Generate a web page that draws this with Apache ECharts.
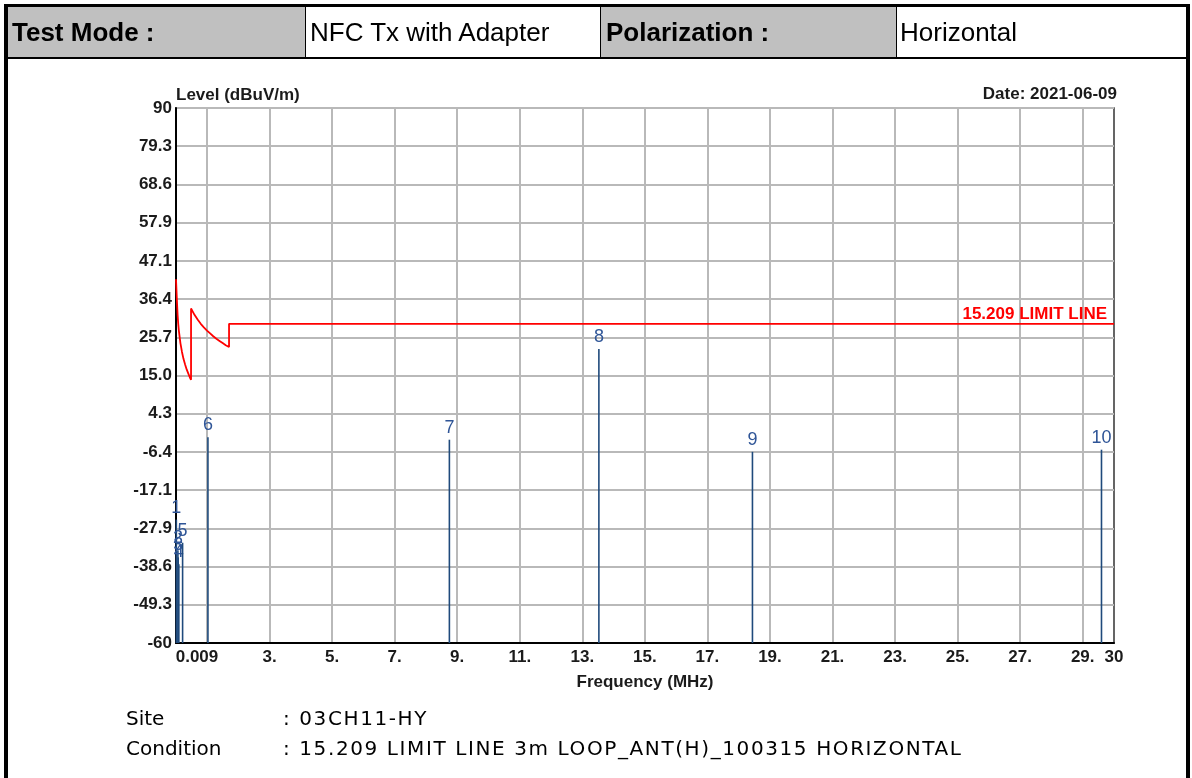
<!DOCTYPE html>
<html>
<head>
<meta charset="utf-8">
<script src="https://cdn.jsdelivr.net/npm/echarts@6/dist/echarts.min.js"></script>
<style>
  html, body { margin:0; padding:0; background:#fff; width:1192px; height:778px; overflow:hidden; }
  #chart { position:absolute; left:0; top:0; width:1192px; height:778px; }
  .abs { position:absolute; }
  .cell { position:absolute; top:7px; height:51px; font-family:"Liberation Sans", Arial, sans-serif; font-size:26px; line-height:51px; color:#000; white-space:nowrap; }
  .foot { position:absolute; font-family:"DejaVu Sans", sans-serif; font-size:20px; color:#000; white-space:nowrap; line-height:24px; }
  .foot2 { letter-spacing:1.6px; }
</style>
</head>
<body>
<div id="chart"></div>
<!-- page frame & header table -->
<div class="abs" style="left:4px;top:4px;width:1186px;height:800px;border:4px solid #000;box-sizing:border-box;"></div>
<div class="cell" style="left:8px;width:297px;background:#c0c0c0;font-weight:bold;padding-left:4px;box-sizing:border-box;">Test Mode :</div>
<div class="cell" style="left:306px;width:294px;background:#fff;padding-left:4px;box-sizing:border-box;">NFC Tx with Adapter</div>
<div class="cell" style="left:601px;width:295px;background:#c0c0c0;font-weight:bold;padding-left:5px;box-sizing:border-box;">Polarization :</div>
<div class="cell" style="left:897px;width:289px;background:#fff;padding-left:3px;box-sizing:border-box;">Horizontal</div>
<div class="abs" style="left:305px;top:7px;width:1px;height:51px;background:#000;"></div>
<div class="abs" style="left:600px;top:7px;width:1px;height:51px;background:#000;"></div>
<div class="abs" style="left:896px;top:7px;width:1px;height:51px;background:#000;"></div>
<div class="abs" style="left:8px;top:57px;width:1178px;height:2px;background:#000;"></div>
<!-- footer -->
<div class="foot" style="left:126px;top:706px;">Site</div>
<div class="foot foot2" style="left:283px;top:706px;">: 03CH11-HY</div>
<div class="foot" style="left:126px;top:736px;">Condition</div>
<div class="foot foot2" style="left:283px;top:736px;">: 15.209 LIMIT LINE 3m LOOP_ANT(H)_100315 HORIZONTAL</div>
<script>
// ---- data ----
const yTickLabels = ['-60', '-49.3', '-38.6', '-27.9', '-17.1', '-6.4', '4.3', '15.0', '25.7', '36.4', '47.1', '57.9', '68.6', '79.3', '90'];
const xGridValues = [1, 3, 5, 7, 9, 11, 13, 15, 17, 19, 21, 23, 25, 27, 29];
const xLabelValues = [0.009, 3, 5, 7, 9, 11, 13, 15, 17, 19, 21, 23, 25, 27, 29, 30];
const xLabelTexts = ['0.009', '3.', '5.', '7.', '9.', '11.', '13.', '15.', '17.', '19.', '21.', '23.', '25.', '27.', '29.', '30'];

const limitFreq  = [0.009, 0.04, 0.06, 0.08, 0.1, 0.15, 0.2, 0.25, 0.3, 0.35, 0.4, 0.45, 0.49, 0.49, 0.6, 0.7, 0.8, 0.9, 1.0, 1.1, 1.2, 1.3, 1.4, 1.5, 1.6, 1.705, 1.705, 30];
const limitLevel = [42.0, 35.6, 32.0, 29.5, 27.6, 24.1, 21.6, 19.6, 18.1, 16.7, 15.6, 14.5, 13.8, 33.8, 32.0, 30.7, 29.5, 28.5, 27.6, 26.8, 26.0, 25.3, 24.7, 24.1, 23.5, 23.0, 29.5, 29.5];
const limitName = '15.209 LIMIT LINE';

const markerNo    = [1, 2, 3, 4, 5, 6, 7, 8, 9, 10];
const markerFreq  = [0.02, 0.07, 0.08, 0.1, 0.22, 1.03, 8.75, 13.53, 18.44, 29.6];
const markerLevel = [-25.4, -34.0, -36.0, -37.9, -31.9, -2.3, -3.0, 22.4, -6.4, -5.8];

const Y_MIN = -60, Y_MAX = 90, X_MIN = 0.009, X_MAX = 30;

// ---- build ----
const chart = echarts.init(document.getElementById('chart'), null, { renderer: 'canvas' });
const labelFont = '"Liberation Sans", Arial, sans-serif';
const gridColor = '#b9b9b9';
const textColor = '#1b1b1b';

const limitData = limitFreq.map((f, i) => [f, limitLevel[i]]);
const markerData = markerFreq.map((f, i) => [f, markerLevel[i], markerNo[i]]);

chart.setOption({
  animation: false,
  title: {
    text: 'Date: 2021-06-09', right: 70, top: 81,
    textStyle: { fontSize: 17, fontWeight: 'bold', color: textColor, fontFamily: labelFont }
  },
  grid: { left: 176, top: 108, width: 938, height: 535, show: true, borderColor: '#333', borderWidth: 1.5, backgroundColor: 'transparent' },
  xAxis: {
    type: 'value', min: X_MIN, max: X_MAX,
    name: 'Frequency (MHz)', nameLocation: 'middle', nameGap: 31,
    nameTextStyle: { fontSize: 17, fontWeight: 'bold', color: textColor, fontFamily: labelFont },
    axisLine: { show: true, onZero: false, lineStyle: { color: '#000', width: 2 } },
    axisTick: { show: false, customValues: xGridValues },
    splitLine: { show: true, customValues: xGridValues, lineStyle: { color: gridColor, width: 2 } },
    axisLabel: {
      customValues: xLabelValues, margin: 6, hideOverlap: false, showMinLabel: true, showMaxLabel: true,
      fontSize: 17, fontWeight: 'bold', color: textColor, fontFamily: labelFont,
      formatter: (v) => {
        let idx = 0, best = Infinity;
        xLabelValues.forEach((x, i) => { const d = Math.abs(x - v); if (d < best) { best = d; idx = i; } });
        return idx === 0 ? '{first|' + xLabelTexts[idx] + '}' : xLabelTexts[idx];
      },
      rich: { first: { fontSize: 17, fontWeight: 'bold', color: textColor, fontFamily: labelFont, padding: [0, 0, 0, 42] } }
    }
  },
  yAxis: {
    type: 'value', min: Y_MIN, max: Y_MAX, interval: (Y_MAX - Y_MIN) / 14,
    name: 'Level (dBuV/m)', nameLocation: 'end', nameGap: 4, nameMoveOverlap: false,
    nameTextStyle: { fontSize: 17, fontWeight: 'bold', color: textColor, fontFamily: labelFont, align: 'left', verticalAlign: 'bottom' },
    axisLine: { show: true, onZero: false, lineStyle: { color: '#000', width: 2 } },
    axisTick: { show: false },
    splitLine: { show: true, lineStyle: { color: gridColor, width: 2 } },
    axisLabel: {
      margin: 4, fontSize: 17, fontWeight: 'bold', color: textColor, fontFamily: labelFont,
      showMinLabel: true, showMaxLabel: true,
      formatter: (v) => yTickLabels[Math.round((v - Y_MIN) / ((Y_MAX - Y_MIN) / 14))]
    }
  },
  series: [
    {
      type: 'line', name: limitName, data: limitData, showSymbol: false, symbol: 'none',
      lineStyle: { color: '#ff0000', width: 1.8 }, z: 3, silent: true,
      endLabel: {
        show: true, formatter: limitName, color: '#ff0000', fontWeight: 'bold', fontSize: 17, fontFamily: labelFont,
        align: 'right', verticalAlign: 'bottom', offset: [-7, -1], distance: 0
      }
    },
    {
      type: 'custom', name: 'markers', data: markerData, z: 4, silent: true,
      renderItem: (params, api) => {
        const top = api.coord([api.value(0), api.value(1)]);
        const bot = api.coord([api.value(0), Y_MIN]);
        return {
          type: 'group',
          children: [
            { type: 'line', shape: { x1: top[0], y1: top[1], x2: bot[0], y2: bot[1] }, style: { stroke: '#1f4a7c', lineWidth: 1.6 } },
            { type: 'text', style: { text: String(api.value(2)), x: top[0], y: top[1] - 3, align: 'center', verticalAlign: 'bottom', fill: '#2f5597', font: '18px "Liberation Sans", Arial, sans-serif' } }
          ]
        };
      }
    }
  ]
});
</script>
</body>
</html>
